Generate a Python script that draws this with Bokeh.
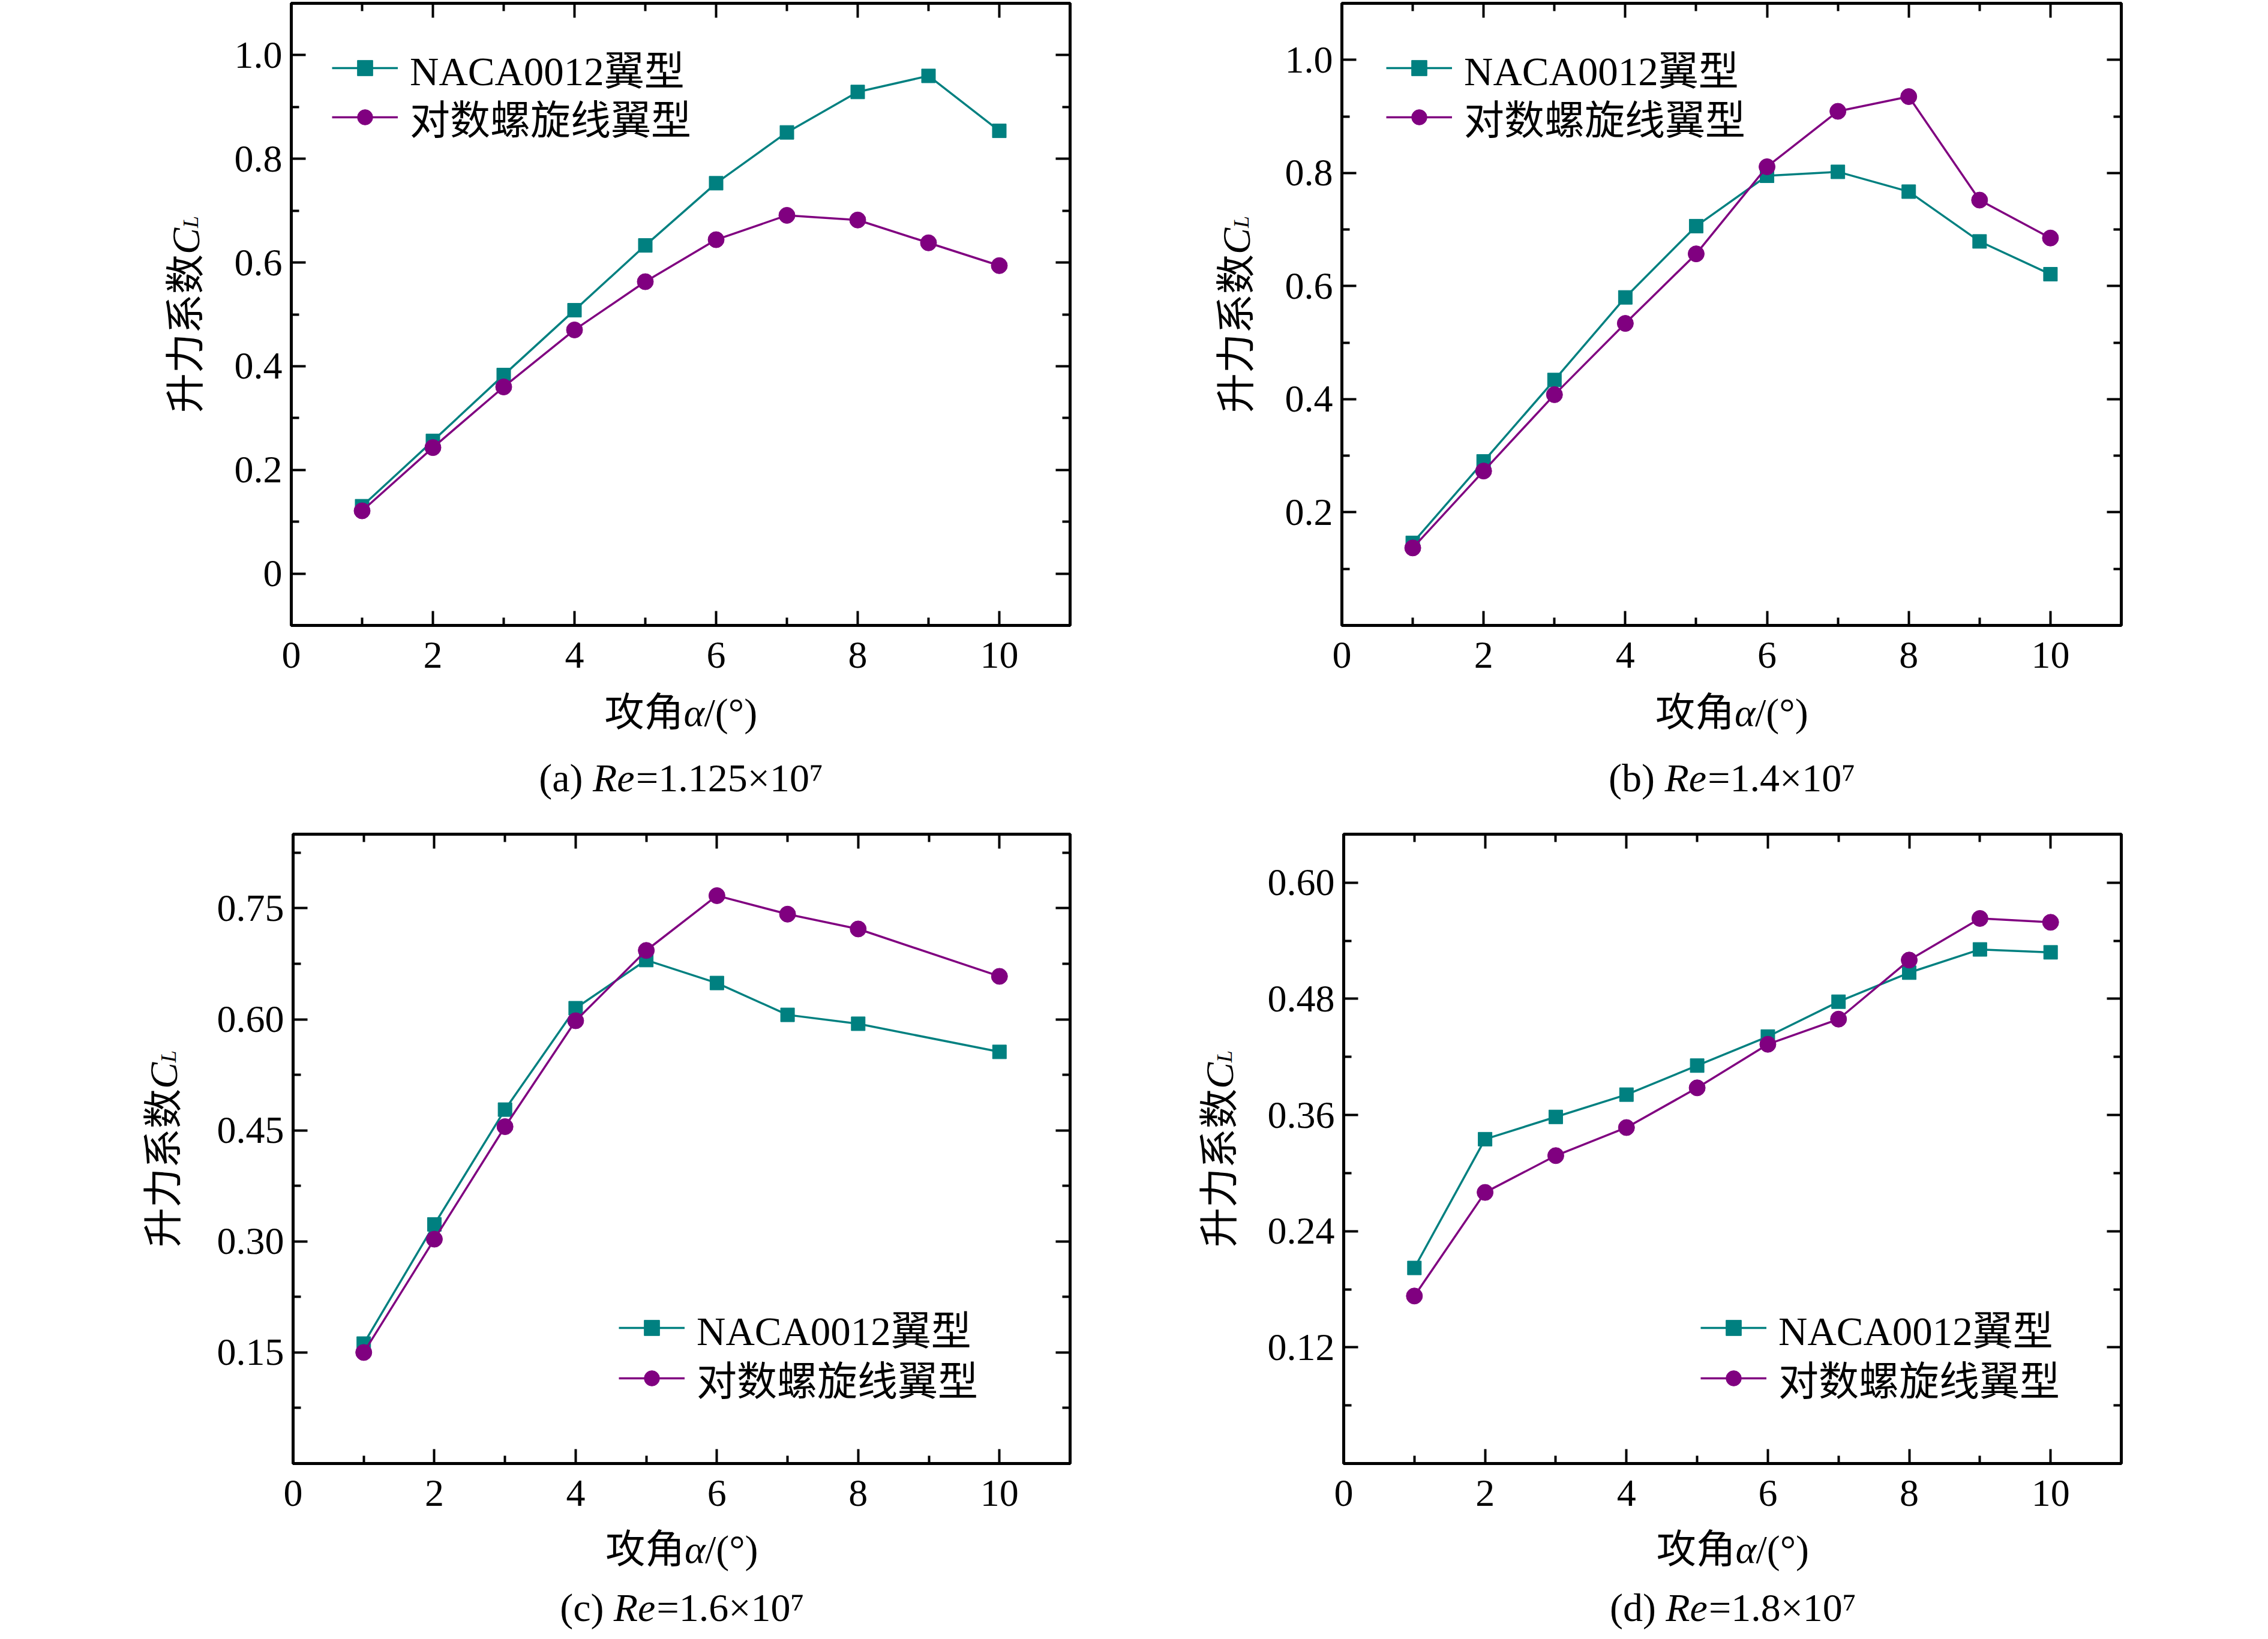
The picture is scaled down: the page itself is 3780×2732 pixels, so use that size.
import math
from bokeh.plotting import figure
from bokeh.models import (FixedTicker, LinearAxis, Range1d, Legend, LegendItem, Label,
                          CustomJSTickFormatter)
from bokeh.layouts import row, column
from bokeh.embed import file_html
from bokeh.resources import INLINE

# ---------------- data ----------------
alpha_ab = [1, 2, 3, 4, 5, 6, 7, 8, 9, 10]
naca_a = [0.130, 0.256, 0.383, 0.508, 0.633, 0.753, 0.851, 0.929, 0.960, 0.854]
spiral_a = [0.121, 0.243, 0.360, 0.470, 0.563, 0.644, 0.691, 0.682, 0.638, 0.594]

naca_b = [0.146, 0.290, 0.434, 0.580, 0.706, 0.795, 0.802, 0.767, 0.679, 0.621]
spiral_b = [0.137, 0.273, 0.408, 0.534, 0.657, 0.811, 0.909, 0.935, 0.752, 0.685]

alpha_c = [1, 2, 3, 4, 5, 6, 7, 8, 10]
naca_c = [0.162, 0.323, 0.478, 0.615, 0.680, 0.649, 0.606, 0.594, 0.556]
spiral_c = [0.150, 0.303, 0.455, 0.598, 0.693, 0.767, 0.742, 0.722, 0.658]

alpha_d = [1, 2, 3, 4, 5, 6, 7, 8, 9, 10]
naca_d = [0.202, 0.335, 0.358, 0.381, 0.411, 0.441, 0.477, 0.507, 0.531, 0.528]
spiral_d = [0.173, 0.280, 0.318, 0.347, 0.388, 0.433, 0.459, 0.520, 0.563, 0.559]

x_major = [0, 2, 4, 6, 8, 10]
x_minor = [1, 3, 5, 7, 9]

ya_major = [0, 0.2, 0.4, 0.6, 0.8, 1.0]
ya_minor = [0.1, 0.3, 0.5, 0.7, 0.9]
yb_major = [0.2, 0.4, 0.6, 0.8, 1.0]
yb_minor = [0.1, 0.3, 0.5, 0.7, 0.9]
yc_major = [0.15, 0.30, 0.45, 0.60, 0.75]
yc_minor = [0.075, 0.225, 0.375, 0.525, 0.675, 0.825]
yd_major = [0.12, 0.24, 0.36, 0.48, 0.60]
yd_minor = [0.06, 0.18, 0.30, 0.42, 0.54]

series_names = ["NACA0012翼型", "对数螺旋线翼型"]
captions = [("(a)", "=1.125×10⁷"), ("(b)", "=1.4×10⁷"), ("(c)", "=1.6×10⁷"), ("(d)", "=1.8×10⁷")]

TEAL = "#008080"
PURPLE = "#800080"
FONT = "Liberation Serif, Noto Sans CJK SC"
NUMFONT = "Liberation Serif"
LP = 66  # label font px


def text_w(s, size):
    w = {"(": .333, ")": .333, " ": .25, "a": .444, "b": .5, "c": .444, "d": .5,
         "=": .564, ".": .25, "×": .564, "⁷": .33}
    return sum(w.get(ch, .5) for ch in s) * size


def text_fig(w, h, bl=0, br=0, bt=0, bb=0):
    fw, fh = w - bl - br, h - bt - bb
    f = figure(width=w, height=h, output_backend="svg", toolbar_location=None,
               x_range=Range1d(0, fw), y_range=Range1d(fh, 0),
               x_axis_type=None, y_axis_type=None,
               min_border_left=bl, min_border_right=br, min_border_top=bt,
               min_border_bottom=bb, background_fill_color="white",
               border_fill_color="white")
    f.outline_line_color = None
    f.grid.visible = False
    return f


def lab(f, x, y, text, italic=False, size=LP, angle=0.0):
    f.add_layout(Label(x=x, y=y, text=text, angle=angle, text_align="left",
                       text_baseline="alphabetic", text_font=FONT,
                       text_font_style="italic" if italic else "normal",
                       text_font_size=f"{size}px", text_color="black"))


def plot_fig(x, y1, y2, yr, ymaj, ymin, fmt, W, H, bl, br, bt, bb, leg_x, leg_y):
    p = figure(width=W, height=H, output_backend="svg", toolbar_location=None,
               x_range=Range1d(0, 11), y_range=Range1d(*yr),
               min_border_left=bl, min_border_right=br, min_border_top=bt,
               min_border_bottom=bb, background_fill_color="white",
               border_fill_color="white")
    p.xgrid.visible = False
    p.ygrid.visible = False
    p.outline_line_color = "black"
    p.outline_line_width = 5

    bottom = p.below[0]
    left = p.left[0]
    xt = FixedTicker(ticks=x_major, minor_ticks=x_minor)
    yt = FixedTicker(ticks=ymaj, minor_ticks=ymin)
    bottom.ticker = xt
    left.ticker = yt
    left.formatter = CustomJSTickFormatter(code=fmt)

    top = LinearAxis(ticker=xt, formatter=CustomJSTickFormatter(code="return ''"))
    right = LinearAxis(ticker=yt, formatter=CustomJSTickFormatter(code="return ''"))
    p.add_layout(top, "above")
    p.add_layout(right, "right")

    for ax in [bottom, left, top, right]:
        ax.axis_line_width = 5
        ax.major_tick_line_width = 4
        ax.minor_tick_line_width = 4
        ax.major_tick_in = 24
        ax.major_tick_out = 0
        ax.minor_tick_in = 13
        ax.minor_tick_out = 0
        ax.axis_label = None
    for ax in [top, right]:
        ax.major_label_text_font_size = "1px"
        ax.major_label_standoff = 0
    for ax in [bottom, left]:
        ax.major_label_text_font = NUMFONT
        ax.major_label_text_font_size = "64px"
        ax.major_label_text_color = "black"
    bottom.major_label_standoff = 28
    left.major_label_standoff = 15

    l1 = p.line(x, y1, line_color=TEAL, line_width=3.5)
    s1 = p.scatter(x, y1, marker="square", size=23, fill_color=TEAL, line_color=TEAL)
    l2 = p.line(x, y2, line_color=PURPLE, line_width=3.5)
    s2 = p.scatter(x, y2, marker="circle", size=27, fill_color=PURPLE, line_color=PURPLE)

    for name, rs, ly in [(series_names[0], [l1, s1], leg_y[0]),
                         (series_names[1], [l2, s2], leg_y[1])]:
        legend = Legend(items=[LegendItem(label=name, renderers=rs)],
                        location=(leg_x, ly), padding=0, margin=0, spacing=0,
                        glyph_width=110, glyph_height=64, label_height=82,
                        label_standoff=20, label_text_font=FONT,
                        label_text_font_size="67px", label_text_color="black",
                        border_line_color=None, background_fill_alpha=0)
        p.add_layout(legend)
    return p


def ylabel_fig(w, h, bt, fh, base_x):
    f = text_fig(w, h, 0, 0, bt, h - bt - fh)
    start = fh / 2 + 164          # bottom end of the rotated label (top-down coords)
    lab(f, base_x, start, "升力系数", angle=math.pi / 2)
    lab(f, base_x, start - 4 * LP, "C", italic=True, angle=math.pi / 2)
    lab(f, base_x + 8, start - 4 * LP - 44, "L", italic=True, size=36, angle=math.pi / 2)
    return f


def caption_fig(w, h, bl, br, xlab_y, cap_y, cap):
    f = text_fig(w, h, bl, br, 0, 0)
    cx = (w - bl - br) / 2
    start = cx - 127
    lab(f, start, xlab_y, "攻角")
    lab(f, start + 2 * LP, xlab_y, "α", italic=True)
    lab(f, start + 2 * LP + 34, xlab_y, "/(°)")
    pre, rest = cap
    w_pre = text_w(pre + " ", LP)
    w_re = 1.09 * LP
    w_rest = text_w(rest, LP)
    c0 = cx - (w_pre + w_re + w_rest) / 2
    lab(f, c0, cap_y, pre)
    lab(f, c0 + w_pre, cap_y, "Re", italic=True)
    lab(f, c0 + w_pre + w_re, cap_y, rest)
    return f


fmt1 = "return tick == 0 ? '0' : tick.toFixed(1)"
fmt2 = "return tick.toFixed(2)"

# row geometry
RH1, PH1, BT1, BB1 = 1360, 1147, 5, 105      # frame height 1037
RH2, PH2, BT2, BB2 = 1356, 1184, 30, 105     # frame height 1049
CH1, CH2 = RH1 - PH1, RH2 - PH2
fh1 = PH1 - BT1 - BB1
fh2 = PH2 - BT2 - BB2

# column geometry: (ylabel width, plot width, border left, border right)
GA = (358, 1515, 127, 90)     # frame width 1298
GB = (236, 1655, 127, 229)    # frame width 1299

LEG1 = (881, 799)
LEG2 = (178, 94)

pa = plot_fig(alpha_ab, naca_a, spiral_a, (-0.1, 1.1), ya_major, ya_minor, fmt1,
              GA[1], PH1, GA[2], GA[3], BT1, BB1, 68, LEG1)
pb = plot_fig(alpha_ab, naca_b, spiral_b, (0, 1.1), yb_major, yb_minor, fmt1,
              GB[1], PH1, GB[2], GB[3], BT1, BB1, 74, LEG1)
pc = plot_fig(alpha_c, naca_c, spiral_c, (0, 0.85), yc_major, yc_minor, fmt2,
              GA[1], PH2, GA[2], GA[3], BT2, BB2, 543, LEG2)
pd = plot_fig(alpha_d, naca_d, spiral_d, (0, 0.65), yd_major, yd_minor, fmt2,
              GB[1], PH2, GB[2], GB[3], BT2, BB2, 595, LEG2)

ya = ylabel_fig(GA[0], RH1, BT1, fh1, 309)
yb = ylabel_fig(GB[0], RH1, BT1, fh1, 187)
yc = ylabel_fig(GA[0], RH2, BT2, fh2, 272)
yd = ylabel_fig(GB[0], RH2, BT2, fh2, 159)

ca = caption_fig(GA[1], CH1, GA[2], GA[3], 40, 149, captions[0])
cb = caption_fig(GB[1], CH1, GB[2], GB[3], 40, 149, captions[1])
cc = caption_fig(GA[1], CH2, GA[2], GA[3], 38, 135, captions[2])
cd = caption_fig(GB[1], CH2, GB[2], GB[3], 38, 135, captions[3])

layout = column(
    row(ya, column(pa, ca), yb, column(pb, cb)),
    row(yc, column(pc, cc), yd, column(pd, cd)),
)
open("out.html", "w").write(file_html(layout, INLINE))
